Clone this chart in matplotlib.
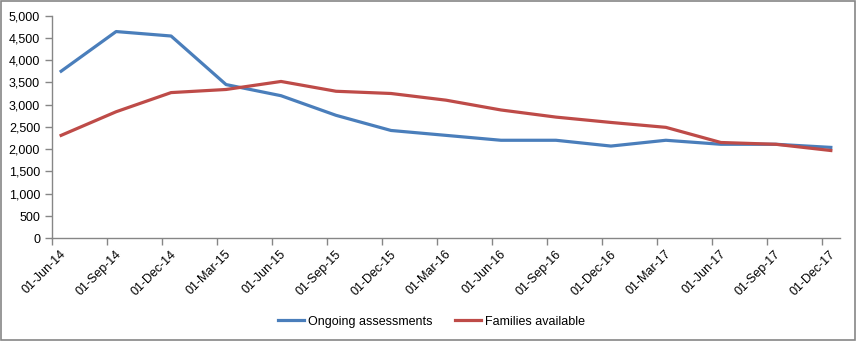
import matplotlib
matplotlib.use('Agg')
import matplotlib.pyplot as plt
from matplotlib.patches import Rectangle
from matplotlib.ticker import FuncFormatter, MultipleLocator
from matplotlib.transforms import ScaledTranslation

# quarterly snapshot dates
dates = ['01-Jun-14', '01-Sep-14', '01-Dec-14', '01-Mar-15', '01-Jun-15',
         '01-Sep-15', '01-Dec-15', '01-Mar-16', '01-Jun-16', '01-Sep-16',
         '01-Dec-16', '01-Mar-17', '01-Jun-17', '01-Sep-17', '01-Dec-17']
ongoing_assessments = [3750, 4640, 4540, 3450, 3200, 2760, 2420, 2310,
                       2200, 2200, 2070, 2200, 2110, 2110, 2040]
families_available = [2310, 2840, 3270, 3340, 3520, 3300, 3250, 3100,
                      2880, 2720, 2600, 2490, 2150, 2110, 1970]

# month-based axis: each date sits in the middle of its month slot
months_per_step = 3
x_ticks = [i * months_per_step for i in range(len(dates))]
x_points = [t + 0.5 for t in x_ticks]

plt.rcParams['font.family'] = ['Liberation Sans', 'DejaVu Sans']
grey = '#868686'

fig = plt.figure(figsize=(8.56, 3.41), dpi=100)
ax = fig.add_axes([0.0607, 0.3012, 0.9206, 0.6533])

ax.plot(x_points, ongoing_assessments, color='#4A7EBB', linewidth=2.3,
        label='Ongoing assessments')
ax.plot(x_points, families_available, color='#BE4B48', linewidth=2.3,
        label='Families available')

ax.set_xlim(0, x_ticks[-1] + 1)
ax.set_ylim(0, 5000)
ax.yaxis.set_major_locator(MultipleLocator(500))
ax.yaxis.set_major_formatter(FuncFormatter(lambda v, p: f'{int(v):,}'))
ax.set_xticks(x_ticks)
ax.set_xticklabels([])

# slanted date labels, ending a little right of and below each tick
label_tf = ax.get_xaxis_transform() + ScaledTranslation(0.08, -0.1, fig.dpi_scale_trans)
for t, d in zip(x_ticks, dates):
    ax.text(t, 0, d, transform=label_tf, rotation=45, rotation_mode='anchor',
            ha='right', va='top', fontsize=9, color='#000000')

for side in ('top', 'right'):
    ax.spines[side].set_visible(False)
for side in ('left', 'bottom'):
    ax.spines[side].set_color(grey)
    ax.spines[side].set_linewidth(1)
ax.tick_params(axis='both', direction='out', length=5, width=1, color=grey,
               labelsize=9, labelcolor='#000000')

fig.legend(loc='center', bbox_to_anchor=(0.504, 0.057), ncol=2, frameon=False,
           fontsize=9, handlelength=2.1, columnspacing=1.8, handletextpad=0.3)

# chart area border
fig.patches.append(Rectangle((0.0006, 0.0015), 0.9985, 0.996, transform=fig.transFigure,
                             fill=False, edgecolor=grey, linewidth=1.2))

fig.savefig('out.png', dpi=100)
plt.close(fig)
